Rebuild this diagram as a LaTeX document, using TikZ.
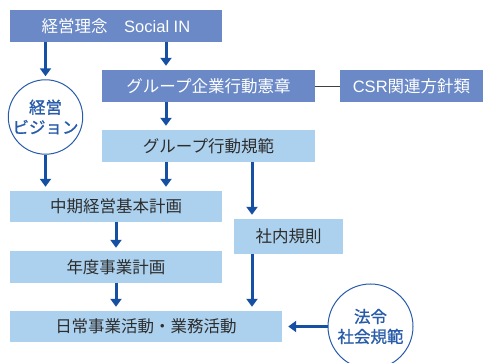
\documentclass[tikz,border=0pt]{standalone}
\usepackage{fontspec}
\setmainfont{Noto Sans CJK JP}
\newfontfamily\latinfont{Liberation Sans}
\usetikzlibrary{arrows.meta,calc}
\definecolor{topblue}{RGB}{106,137,198}
\definecolor{lightblue}{RGB}{172,209,238}
\definecolor{arrowblue}{RGB}{22,80,162}
\definecolor{circblue}{RGB}{40,92,170}
\definecolor{boxtext}{RGB}{45,45,45}
\tikzset{
  topbox/.style={rectangle, fill=topblue, text=white, inner sep=0pt, font=\fontsize{16.5}{18}\selectfont},
  lightbox/.style={rectangle, fill=lightblue, text=boxtext, inner sep=0pt, font=\fontsize{16.5}{18}\selectfont},
  circ/.style={circle, draw=circblue, line width=1pt, fill=white, text=circblue, inner sep=0pt, align=center, font=\fontsize{16.5}{20}\selectfont\addfontfeature{FakeBold=1}},
  flow/.style={draw=arrowblue, line width=3pt, -{Triangle[width=11pt,length=8pt]}},
  link/.style={draw=black!75, line width=0.8pt}
}
\begin{document}
\begin{tikzpicture}[x=1pt,y=-1pt]
\useasboundingbox (0,0) rectangle (488,363);
% boxes
\node[topbox, minimum width=212pt, minimum height=32pt] (top) at (116,26) {経営理念　{\latinfont Social IN}};
\node[topbox, minimum width=213pt, minimum height=32pt] (charter) at (208.5,86) {グループ企業行動憲章};
\node[topbox, minimum width=143pt, minimum height=32pt] (csr) at (411.5,86) {{\latinfont CSR}関連方針類};
\node[lightbox, minimum width=213pt, minimum height=32pt] (code) at (208.5,146) {グループ行動規範};
\node[lightbox, minimum width=212pt, minimum height=31pt] (mid) at (116,206.5) {中期経営基本計画};
\node[lightbox, minimum width=109pt, minimum height=35pt] (rules) at (288.5,236.5) {社内規則};
\node[lightbox, minimum width=212pt, minimum height=32pt] (year) at (116,267) {年度事業計画};
\node[lightbox, minimum width=272pt, minimum height=31pt] (daily) at (146,326.5) {日常事業活動・業務活動};
% circles
\node[circ, minimum size=72pt] (vision) at (45.5,117) {経営\\ビジョン};
\node[circ, minimum size=85pt] (law) at (370.5,326.5) {法令\\社会規範};
% x positions
\coordinate (xa) at (45.5,0);
\coordinate (xb) at (166,0);
\coordinate (xc) at (116,0);
\coordinate (xd) at (252,0);
% connectors
\draw[flow, shorten >=3pt] (xa |- top.south) -- (vision.north);
\draw[flow, shorten >=4pt] (xb |- top.south) -- (xb |- charter.north);
\draw[flow, shorten >=4pt] (xb |- charter.south) -- (xb |- code.north);
\draw[flow, shorten >=4pt] (vision.south) -- (xa |- mid.north);
\draw[flow, shorten >=4pt] (xb |- code.south) -- (xb |- mid.north);
\draw[flow, shorten >=4pt] (xd |- code.south) -- (xd |- rules.north);
\draw[flow, shorten >=3pt] (xc |- mid.south) -- (xc |- year.north);
\draw[flow, shorten >=4pt] (xc |- year.south) -- (xc |- daily.north);
\draw[flow, shorten >=4pt] (xd |- rules.south) -- (xd |- daily.north);
\draw[flow, shorten >=6pt] (law.west) -- (daily.east);
\draw[link] (charter.east) -- (csr.west);
\end{tikzpicture}
\end{document}
